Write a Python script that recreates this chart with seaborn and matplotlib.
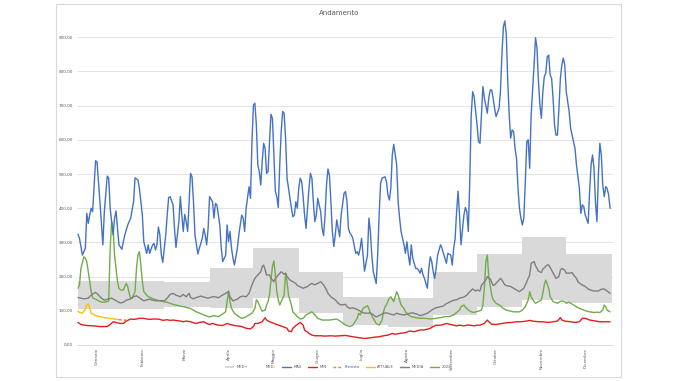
import matplotlib
matplotlib.use("Agg")
import matplotlib.pyplot as plt
from matplotlib.lines import Line2D
from matplotlib.patches import Patch, Rectangle
import numpy as np
import seaborn as sns

# --- data (x = day of year, y = value) ---
months = ["Gennaio", "Febbraio", "Marzo", "Aprile", "Maggio", "Giugno",
          "Luglio", "Agosto", "Settembre", "Ottobre", "Novembre", "Dicembre"]
month_start = [0, 31, 59, 90, 120, 151, 181, 212, 243, 273, 304, 334, 365]
month_tick = [13, 44, 73, 103, 134, 164, 194, 225, 256, 286, 317, 347]

# monthly band: MED- (lower bound) and MED- + MED+ (upper bound)
med_low = [106, 106, 110, 109, 137, 93, 58, 54, 88, 110, 132, 122]
med_high = [188, 188, 184, 226, 283, 214, 141, 138, 213, 265, 317, 265]

max_days = [0, 1, 3, 5, 6, 7, 8, 9, 10, 12, 13, 15, 17, 18, 20, 21, 22, 24, 25, 26, 27, 28, 30, 31, 32, 34, 36, 38, 39, 41,
            42, 44, 45, 47, 48, 49, 51, 52, 53, 54, 55, 56, 57, 58, 59, 60, 61, 62, 63, 65, 66, 67, 69, 70, 71, 72, 73, 74, 75, 76,
            77, 78, 79, 80, 82, 83, 85, 86, 87, 88, 89, 90, 92, 93, 94, 95, 97, 98, 99, 101, 102, 103, 104, 105, 106, 107, 109, 110, 112, 113,
            114, 115, 117, 118, 119, 120, 121, 122, 123, 124, 125, 126, 127, 128, 129, 130, 131, 132, 133, 134, 135, 136, 137, 138, 139, 140, 141, 142, 143, 144,
            145, 146, 147, 148, 149, 150, 151, 152, 153, 154, 155, 156, 157, 158, 159, 160, 161, 162, 163, 164, 166, 167, 168, 169, 170, 171, 172, 173, 174, 175,
            176, 177, 178, 179, 180, 182, 183, 184, 185, 186, 187, 188, 190, 191, 192, 193, 194, 195, 196, 198, 199, 200, 201, 202, 204, 205, 206, 207, 208, 210,
            211, 212, 213, 214, 215, 216, 218, 219, 220, 221, 223, 224, 225, 226, 227, 228, 229, 231, 232, 233, 234, 235, 236, 237, 239, 240, 241, 242, 243, 244,
            245, 246, 248, 249, 250, 251, 252, 253, 255, 256, 257, 258, 259, 260, 261, 262, 264, 265, 266, 267, 268, 269, 270, 271, 273, 274, 275, 276, 277, 278,
            280, 281, 282, 283, 284, 285, 286, 288, 289, 290, 291, 292, 293, 294, 295, 296, 297, 298, 299, 300, 301, 302, 303, 304, 305, 306, 307, 308, 309, 310,
            312, 313, 314, 315, 316, 317, 318, 319, 320, 321, 322, 323, 324, 325, 326, 327, 328, 329, 330, 331, 332, 333, 334, 336, 337, 339, 340, 341, 343, 344,
            345, 346, 347, 349, 350, 351, 352, 353, 354, 355, 356, 357, 358, 359, 360, 361, 362, 363, 364]
max_vals = [324, 312, 263, 283, 385, 356, 380, 400, 390, 539, 536, 419, 293, 390, 494, 488, 400, 322, 371, 392, 341, 293, 280, 302, 322, 351, 371, 419, 489, 483,
            458, 380, 302, 268, 293, 268, 293, 297, 278, 293, 345, 322, 263, 242, 283, 322, 380, 431, 434, 410, 341, 285, 361, 434, 380, 332, 382, 361, 332, 419,
            502, 492, 419, 322, 266, 283, 312, 341, 322, 293, 341, 434, 419, 371, 414, 410, 351, 283, 244, 263, 351, 302, 332, 283, 254, 234, 283, 322, 380, 371,
            332, 400, 463, 429, 595, 702, 707, 644, 527, 507, 468, 536, 590, 575, 502, 507, 595, 675, 663, 556, 449, 434, 402, 527, 624, 683, 678, 605, 488, 458,
            429, 400, 375, 380, 419, 400, 458, 488, 478, 434, 380, 341, 400, 458, 502, 488, 419, 361, 380, 429, 390, 341, 320, 380, 468, 515, 497, 419, 332, 288,
            322, 366, 341, 317, 380, 444, 449, 419, 341, 327, 322, 312, 268, 273, 263, 283, 312, 263, 216, 263, 371, 332, 263, 214, 180, 263, 380, 473, 488, 492,
            478, 439, 424, 458, 556, 587, 527, 419, 371, 332, 293, 268, 302, 263, 234, 293, 254, 224, 224, 219, 210, 224, 205, 195, 166, 224, 258, 244, 214, 195,
            224, 263, 293, 283, 268, 254, 239, 268, 263, 234, 283, 312, 390, 450, 380, 293, 380, 402, 390, 332, 478, 673, 741, 726, 644, 595, 590, 673, 756, 722,
            678, 722, 746, 746, 722, 692, 668, 692, 741, 848, 931, 948, 907, 770, 673, 605, 629, 624, 575, 546, 458, 400, 371, 351, 371, 478, 595, 600, 517, 673,
            819, 899, 868, 770, 702, 663, 741, 785, 795, 843, 848, 790, 780, 722, 644, 614, 614, 692, 780, 819, 839, 819, 741, 683, 634, 595, 575, 527, 458, 385,
            410, 405, 380, 356, 449, 527, 556, 517, 419, 361, 497, 590, 556, 468, 434, 463, 458, 439, 400]

min_days = [0, 2, 6, 10, 15, 20, 22, 24, 26, 29, 31, 33, 36, 38, 40, 42, 45, 47, 49, 51, 54, 56, 58, 61, 63, 65, 68, 70, 72, 74,
            77, 79, 81, 83, 86, 88, 90, 92, 96, 99, 102, 104, 107, 112, 115, 118, 120, 121, 123, 126, 128, 129, 131, 134, 136, 138, 140, 143, 144, 146,
            147, 149, 151, 152, 154, 155, 158, 160, 162, 166, 169, 173, 176, 180, 183, 188, 193, 196, 200, 203, 206, 209, 212, 215, 217, 220, 224, 227, 230, 234,
            237, 241, 243, 245, 248, 250, 252, 255, 257, 259, 261, 264, 266, 268, 271, 273, 275, 278, 280, 281, 283, 286, 290, 293, 297, 300, 303, 307, 309, 311,
            315, 318, 322, 325, 328, 330, 331, 333, 337, 340, 343, 345, 347, 350, 354, 357, 361, 364]
min_vals = [66, 60, 57, 56, 54, 54, 60, 68, 66, 63, 63, 70, 76, 75, 76, 78, 78, 76, 75, 76, 76, 75, 72, 74, 72, 73, 71, 70, 68, 70,
            68, 65, 63, 66, 68, 63, 60, 63, 58, 57, 63, 60, 57, 54, 49, 47, 54, 63, 63, 68, 80, 73, 68, 63, 60, 57, 54, 49, 41, 39,
            49, 57, 63, 66, 58, 44, 34, 29, 27, 27, 26, 27, 26, 27, 28, 24, 21, 19, 21, 23, 24, 27, 29, 34, 31, 34, 36, 41, 39, 44,
            44, 49, 54, 58, 58, 60, 63, 60, 58, 56, 58, 56, 58, 58, 56, 58, 58, 63, 73, 68, 61, 60, 63, 65, 66, 68, 68, 70, 72, 70,
            68, 68, 66, 68, 70, 80, 73, 70, 68, 66, 68, 78, 78, 73, 70, 68, 68, 68]

media_days = [0, 4, 7, 9, 12, 14, 16, 18, 21, 23, 25, 27, 29, 31, 33, 36, 38, 40, 42, 45, 47, 49, 51, 54, 56, 59, 61, 63, 65, 67,
              70, 72, 74, 76, 77, 79, 81, 84, 87, 89, 92, 94, 96, 98, 101, 103, 104, 106, 109, 111, 113, 115, 117, 119, 121, 123, 125, 126, 127, 128,
              129, 131, 132, 134, 135, 137, 139, 141, 142, 143, 145, 147, 149, 150, 152, 154, 157, 159, 160, 162, 164, 166, 168, 170, 171, 173, 176, 178, 180, 183,
              184, 186, 188, 191, 193, 195, 198, 200, 202, 204, 207, 209, 211, 214, 216, 218, 220, 223, 225, 227, 229, 232, 234, 236, 239, 241, 243, 245, 248, 250,
              252, 255, 257, 259, 261, 264, 266, 267, 268, 270, 272, 273, 275, 276, 279, 280, 282, 284, 285, 287, 289, 290, 292, 293, 296, 298, 300, 302, 305, 307,
              309, 310, 312, 313, 315, 317, 318, 321, 322, 324, 326, 327, 329, 330, 331, 333, 334, 336, 338, 339, 341, 342, 344, 347, 349, 351, 353, 356, 358, 360,
              362, 364]
media_vals = [139, 135, 137, 146, 154, 146, 137, 131, 135, 137, 132, 127, 123, 125, 131, 135, 141, 144, 138, 129, 132, 134, 131, 129, 130, 129, 137, 148, 151, 146,
              141, 148, 141, 151, 139, 135, 139, 143, 139, 137, 141, 141, 138, 144, 151, 156, 141, 129, 134, 141, 143, 141, 151, 176, 195, 205, 214, 229, 234, 220,
              205, 205, 195, 185, 195, 205, 214, 207, 210, 200, 190, 185, 180, 174, 170, 166, 171, 178, 180, 176, 180, 185, 176, 161, 151, 141, 132, 122, 117, 119,
              112, 107, 109, 104, 99, 94, 93, 94, 88, 82, 88, 93, 94, 90, 88, 93, 90, 88, 90, 93, 94, 90, 86, 88, 93, 99, 105, 109, 112, 114,
              121, 127, 131, 132, 137, 140, 146, 151, 156, 164, 158, 161, 158, 174, 190, 200, 193, 174, 176, 185, 195, 190, 176, 174, 171, 166, 161, 156, 166, 185,
              205, 239, 244, 232, 216, 212, 222, 234, 234, 219, 203, 195, 200, 219, 224, 219, 210, 210, 212, 205, 195, 185, 178, 171, 164, 160, 158, 158, 163, 164,
              158, 151]

y2022_days = [0, 1, 2, 4, 5, 6, 7, 8, 9, 10, 13, 15, 17, 19, 21, 22, 23, 24, 25, 26, 27, 28, 29, 31, 32, 33, 34, 35, 36, 37,
              39, 40, 41, 42, 43, 44, 45, 47, 48, 52, 56, 61, 65, 72, 77, 81, 86, 90, 93, 96, 98, 101, 102, 103, 104, 105, 107, 110, 112, 114,
              117, 119, 121, 122, 123, 125, 126, 128, 129, 130, 131, 132, 133, 134, 135, 136, 137, 138, 139, 141, 142, 143, 144, 146, 147, 150, 152, 154, 156, 159,
              160, 162, 164, 167, 172, 177, 180, 183, 186, 188, 191, 192, 193, 194, 195, 198, 199, 200, 202, 204, 206, 208, 209, 210, 211, 212, 213, 214, 216, 217,
              218, 219, 220, 221, 223, 224, 225, 226, 228, 231, 234, 238, 241, 245, 248, 251, 254, 257, 259, 261, 262, 264, 265, 266, 267, 269, 271, 272, 274, 276,
              277, 278, 279, 280, 281, 283, 284, 286, 289, 291, 293, 296, 298, 302, 304, 306, 308, 309, 310, 312, 313, 315, 317, 318, 319, 320, 322, 323, 325, 328,
              329, 331, 333, 334, 336, 339, 341, 343, 346, 348, 350, 353, 355, 357, 359, 360, 361, 362, 364]
y2022_vals = [166, 176, 224, 258, 254, 244, 214, 185, 156, 138, 132, 127, 125, 126, 129, 283, 361, 341, 263, 224, 185, 166, 161, 161, 171, 180, 171, 151, 137, 137,
              156, 224, 263, 273, 234, 185, 156, 146, 141, 134, 129, 125, 119, 112, 107, 97, 88, 82, 86, 83, 88, 97, 127, 158, 127, 107, 93, 83, 78, 80,
              88, 93, 107, 132, 127, 107, 99, 102, 117, 127, 146, 190, 230, 246, 205, 156, 132, 117, 127, 146, 210, 185, 146, 117, 97, 83, 76, 78, 88, 95,
              97, 88, 78, 73, 73, 76, 68, 58, 54, 58, 78, 93, 88, 97, 107, 115, 107, 93, 78, 63, 58, 73, 97, 112, 117, 127, 137, 141, 127, 141,
              156, 146, 132, 117, 107, 97, 93, 88, 83, 80, 78, 78, 76, 78, 80, 83, 83, 88, 95, 102, 112, 117, 110, 107, 102, 97, 95, 97, 99, 102,
              117, 166, 244, 263, 200, 146, 132, 122, 115, 107, 102, 99, 97, 97, 102, 112, 132, 156, 141, 127, 122, 127, 132, 151, 176, 190, 166, 141, 127, 122,
              125, 129, 127, 122, 125, 117, 112, 107, 102, 99, 97, 95, 96, 95, 102, 117, 112, 102, 97]

attuale_days = [0, 1, 3, 5, 6, 7, 8, 9, 12, 15, 18, 22, 25, 28]
attuale_vals = [99, 95, 93, 105, 117, 121, 108, 93, 86, 83, 80, 78, 76, 74]

previsto_days = [28, 31, 35]
previsto_vals = [74, 73, 72]

c_max = "#4472C4"
c_min = "#E02020"
c_prev = "#ED7D31"
c_att = "#FFC000"
c_media = "#7F7F7F"
c_2022 = "#70AD47"
c_band = "#D9D9D9"
c_text = "#595959"

sns.set_style("white")
plt.rcParams["font.family"] = ["DejaVu Sans"]

fig = plt.figure(figsize=(6.78, 3.81), dpi=100)
ax = fig.add_axes([77 / 678, 1 - 345 / 381, (613 - 77) / 678, (345 - 16.8) / 381])

# stacked band: white MED- area, grey MED+ area on top
edges = np.array(month_start, dtype=float)
low = np.append(med_low, med_low[-1])
high = np.append(med_high, med_high[-1])
ax.fill_between(edges, 0, low, step="post", color="white", linewidth=0, zorder=1)
ax.fill_between(edges, low, high, step="post", color=c_band, linewidth=0, zorder=1)

lw = 1.0
sns.lineplot(x=y2022_days, y=y2022_vals, ax=ax, color=c_2022, linewidth=lw, zorder=3)
sns.lineplot(x=media_days, y=media_vals, ax=ax, color=c_media, linewidth=lw, zorder=3)
sns.lineplot(x=min_days, y=min_vals, ax=ax, color=c_min, linewidth=lw, zorder=4)
sns.lineplot(x=max_days, y=max_vals, ax=ax, color=c_max, linewidth=lw, zorder=4)
sns.lineplot(x=attuale_days, y=attuale_vals, ax=ax, color=c_att, linewidth=lw, zorder=4)
sns.lineplot(x=previsto_days, y=previsto_vals, ax=ax, color=c_prev, linewidth=lw,
             linestyle=(0, (2, 1.5)), zorder=4)

ax.set_xlim(-0.7, 366)
ax.set_ylim(0, 960)
ax.set_yticks(range(0, 901, 100))
ax.set_yticklabels([f"{v},00" for v in range(0, 901, 100)])
ax.set_xticks(month_tick)
ax.set_xticklabels(months, rotation=90)
ax.tick_params(axis="both", length=0, labelsize=3, colors=c_text)
ax.tick_params(axis="y", pad=3)
ax.tick_params(axis="x", pad=2)
ax.set_xlabel("")
ax.set_ylabel("")
ax.grid(axis="y", color=c_band, linewidth=0.5)
ax.set_axisbelow(True)
for side in ["top", "right", "left"]:
    ax.spines[side].set_visible(False)
ax.spines["bottom"].set_color(c_band)
ax.spines["bottom"].set_linewidth(0.6)
ax.spines["bottom"].set_zorder(5)

fig.text(339 / 678, 1 - 13 / 381, "Andamento", ha="center", va="center", fontsize=5, color=c_text)

handles = [
    Patch(facecolor=c_band, edgecolor="none"),
    Patch(facecolor="white", edgecolor="none"),
    Line2D([], [], color=c_max, lw=lw),
    Line2D([], [], color=c_min, lw=lw),
    Line2D([], [], color=c_prev, lw=lw, linestyle=(0, (2, 1.5))),
    Line2D([], [], color=c_att, lw=lw),
    Line2D([], [], color=c_media, lw=lw),
    Line2D([], [], color=c_2022, lw=lw),
]
labels = ["MED+", "MED-", "MAX", "MIN", "Previsto", "ATTUALE", "MEDIA", "2022"]
fig.legend(handles, labels, loc="center", bbox_to_anchor=(338 / 678, 1 - 367 / 381), ncol=8,
           fontsize=2.7, frameon=False, handlelength=2.5, handleheight=0.5, handletextpad=0.6,
           columnspacing=1.6, labelcolor=c_text)

fig.patches.append(Rectangle((56 / 678, 1 - 377 / 381), (621 - 56) / 678, (377 - 4) / 381,
                             transform=fig.transFigure, fill=False, edgecolor=c_band, linewidth=0.8))

fig.savefig("out.png", dpi=100)
